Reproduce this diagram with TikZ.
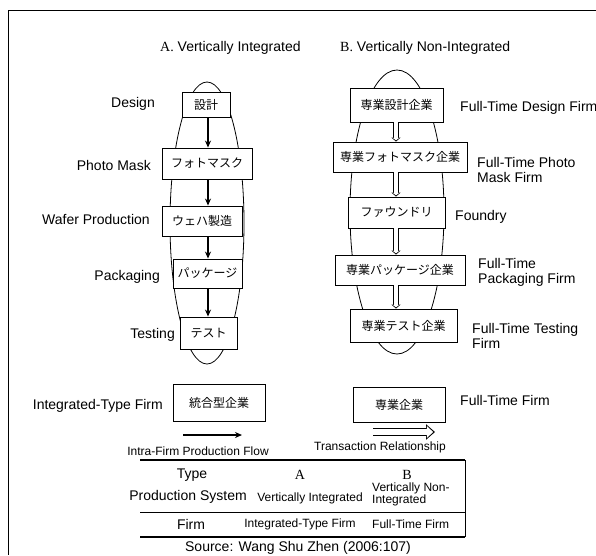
\documentclass[tikz,border=0pt]{standalone}
\usepackage{fontspec}
\setmainfont{Liberation Sans}
\newfontfamily\jpfont{Noto Sans CJK JP}
\newfontfamily\tmfont{Liberation Serif}
\usetikzlibrary{arrows.meta}
\tikzset{
  jbox/.style={draw, fill=white, line width=0.9pt, inner sep=0pt, minimum height=30pt, font=\jpfont\fontsize{12}{12}\selectfont},
  lbl/.style={font=\fontsize{14}{15}\selectfont, inner sep=0pt},
  tbl/.style={font=\fontsize{12}{11}\selectfont, inner sep=0pt},
  flow/.style={line width=1.3pt, -{Stealth[length=7pt,width=6pt]}},
  trans/.style={line width=6pt, -{Triangle[length=4pt,width=9pt]},
    postaction={draw, white, line width=4.6pt, shorten >=1.2pt, -{Triangle[length=2.6pt,width=6.4pt]}}},
  bigtrans/.style={line width=7.4pt, -{Triangle[length=9pt,width=15pt]},
    postaction={draw, white, line width=6pt, shorten >=1.8pt, -{Triangle[length=6.4pt,width=11.5pt]}}},
}
\begin{document}
\begin{tikzpicture}[x=1pt, y=-1pt]
	\useasboundingbox (0,0) rectangle (596,555);
	\draw[line width=1pt] (596,10) -- (8,10) -- (8,555);
	% titles
	\node[lbl, anchor=west] (titleA) at (160,48) {{\tmfont A.} Vertically Integrated};
	\node[lbl, anchor=west] (titleB) at (340,48) {{\tmfont B.} Vertically Non-Integrated};
	% spindles behind the columns
	\draw[line width=0.8pt] (207,223) ellipse [x radius=37, y radius=141];
	\draw[line width=0.8pt] (397,212) ellipse [x radius=47, y radius=142];
	% A: vertically integrated
	\node[jbox, minimum width=48pt, minimum height=25pt] (design) at (206,104.5) {設計};
	\node[jbox, minimum width=90pt, minimum height=31pt] (mask) at (207,163.5) {フォトマスク};
	\node[jbox, minimum width=80pt] (wafer) at (202,221) {ウェハ製造};
	\node[jbox, minimum width=69pt, minimum height=29pt] (pack) at (207.5,273.5) {パッケージ};
	\node[jbox, minimum width=57pt, minimum height=32pt] (test) at (208.5,333) {テスト};
	\node[lbl, anchor=east] (ldesign) at (155,104) {Design};
	\node[lbl, anchor=east] (lmask) at (151,165) {Photo Mask};
	\node[lbl, anchor=east] (lwafer) at (150,219) {Wafer Production};
	\node[lbl, anchor=east] (lpack) at (160,277) {Packaging};
	\node[lbl, anchor=east] (ltest) at (175,335) {Testing};
	\coordinate (axisA) at (208,0);
	\foreach \a/\b in {design/mask, mask/wafer, wafer/pack, pack/test}
		\draw[flow] (axisA |- \a.south) -- (axisA |- \b.north);
	% B: vertically non-integrated
	\node[jbox, minimum width=93pt, minimum height=34pt] (bdesign) at (396.5,105) {専業設計企業};
	\node[jbox, minimum width=134pt] (bmask) at (400,157) {専業フォトマスク企業};
	\node[jbox, minimum width=97pt, minimum height=31pt] (foundry) at (396.5,212.5) {ファウンドリ};
	\node[jbox, minimum width=130pt] (bpack) at (400,270) {専業パッケージ企業};
	\node[jbox, minimum width=107pt, minimum height=33pt] (btest) at (403.5,325.5) {専業テスト企業};
	\node[lbl, anchor=west] (lbdesign) at (460,108) {Full-Time Design Firm};
	\node[lbl, anchor=west, align=left] (lbmask) at (477,170) {Full-Time Photo\\Mask Firm};
	\node[lbl, anchor=west] (lfoundry) at (455,217) {Foundry};
	\node[lbl, anchor=west, align=left] (lbpack) at (478,272) {Full-Time\\Packaging Firm};
	\node[lbl, anchor=west, align=left] (lbtest) at (472,336) {Full-Time Testing\\Firm};
	\coordinate (axisB) at (396,0);
	\foreach \a/\b in {bdesign/bmask, bmask/foundry, foundry/bpack, bpack/btest}
		\draw[trans] (axisB |- \a.south) -- (axisB |- \b.north);
	% legend
	\node[jbox, minimum width=92pt, minimum height=37pt] (integ) at (219,402.5) {統合型企業};
	\node[lbl, anchor=east] (linteg) at (163,406) {Integrated-Type Firm};
	\node[jbox, minimum width=92pt, minimum height=35pt] (fulltime) at (399,404.5) {専業企業};
	\node[lbl, anchor=west] (lfulltime) at (460,400) {Full-Time Firm};
	\coordinate (flowL) at (183,435);
	\coordinate (flowR) at (242,435);
	\draw[flow] (flowL) -- (flowR);
	\node[tbl] (lflow) at (198,451) {Intra-Firm Production Flow};
	\coordinate (transL) at (373,432);
	\coordinate (transR) at (435,432);
	\draw[bigtrans] (transL) -- (transR);
	\node[tbl] (ltrans) at (380,447) {Transaction Relationship};
	% table
	\draw[line width=1.4pt] (140,460) -- (465,460);
	\draw[line width=0.8pt] (140,512) -- (465,512);
	\draw[line width=1.4pt] (140,537) -- (465,537);
	\draw[line width=0.8pt] (465,460) -- (465,537);
	\node[lbl] (ttype) at (192,475) {Type};
	\node[lbl] (tsys) at (188,497) {Production System};
	\node[lbl, font=\tmfont\fontsize{14}{15}\selectfont] (tA) at (300,475) {A};
	\node[lbl, font=\tmfont\fontsize{14}{15}\selectfont] (tB) at (407,475) {B};
	\node[tbl] (tvi) at (310,498) {Vertically Integrated};
	\node[tbl, anchor=west, align=left] (tvni) at (372,494) {Vertically Non-\\Integrated};
	\node[lbl] (tfirm) at (191,524) {Firm};
	\node[tbl] (tfa) at (300,524) {Integrated-Type Firm};
	\node[tbl, anchor=west] (tfb) at (372,524) {Full-Time Firm};
	\node[lbl] (source) at (298,548) {Source: Wang Shu Zhen (2006:107)};
\end{tikzpicture}
\end{document}
